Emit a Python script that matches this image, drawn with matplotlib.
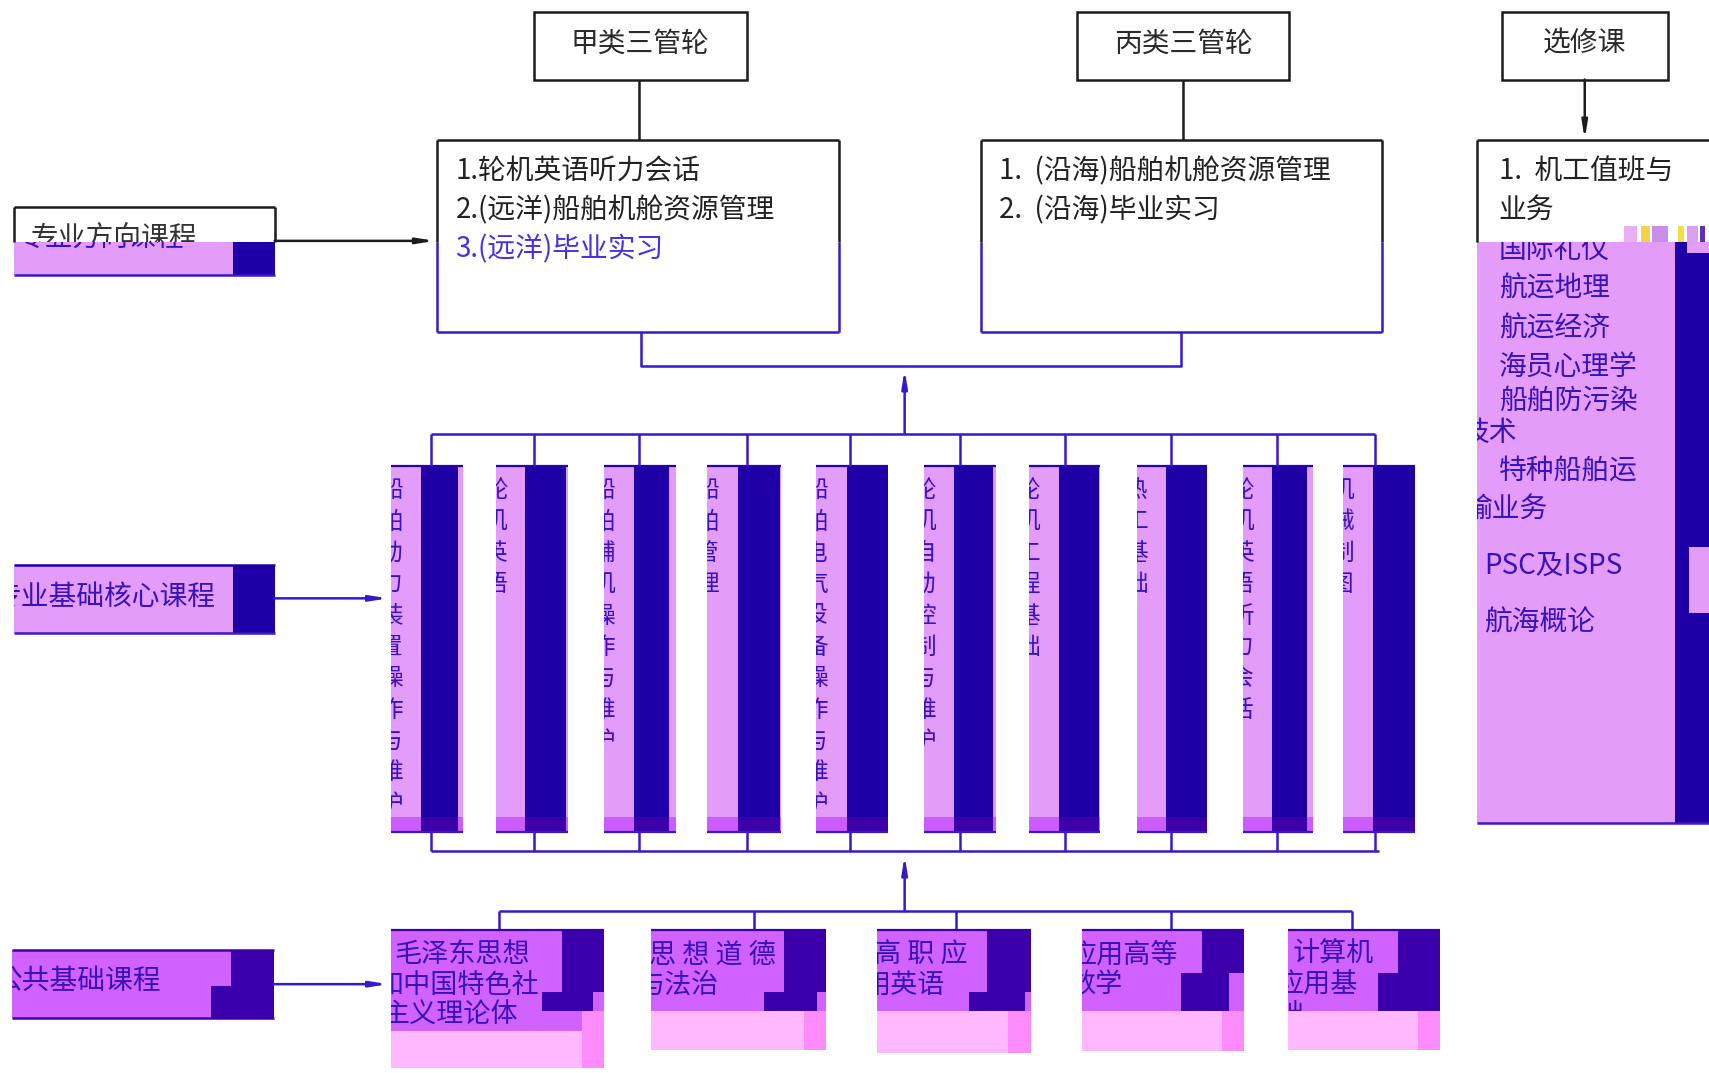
import matplotlib.pyplot as plt
from matplotlib.patches import Rectangle
from matplotlib.transforms import Bbox

plt.rcParams['font.family'] = ['Noto Sans CJK SC', 'DejaVu Sans']

# ---- text content ----
top_labels = ['甲类三管轮', '丙类三管轮', '选修课']
track_a = ['1.轮机英语听力会话', '2.(远洋)船舶机舱资源管理', '3.(远洋)毕业实习']
track_c = ['1.  (沿海)船舶机舱资源管理', '2.  (沿海)毕业实习']
elective_head = ['1.  机工值班与', '业务']
electives = ['国际礼仪', '航运地理', '航运经济', '海员心理学', '船舶防污染', '技术',
             '特种船舶运', '输业务', 'PSC及ISPS', '航海概论']
core_courses = ['船舶动力装置操作与维护', '轮机英语', '船舶辅机操作与维护', '船舶管理',
                '船舶电气设备操作与维护', '轮机自动控制与维护', '轮机工程基础', '热工基础',
                '轮机英语听力会话', '机械制图']
public_courses = [['毛泽东思想', '和中国特色社', '主义理论体'],
                  ['思 想 道 德', '与法治'],
                  ['高 职 应', '用英语'],
                  ['应用高等', '数学'],
                  ['计算机', '应用基', '础']]
side_labels = ['专业方向课程', '专业基础核心课程', '公共基础课程']

# ---- colours ----
BLACK = '#1c1c1c'
BLUE = '#3a17cc'
TBLUE = '#4a2ee6'
PINK = '#e49cfa'
NAVY = '#1f00a6'
MAG = '#d262ff'
DEEP = '#3b00ab'
LPINK = '#ffb8ff'
STRIP = '#ff8cff'
CTXT = '#3a12bc'

W, H = 1568, 984.5
fig = plt.figure(figsize=(17.09, 10.73), dpi=100)
ax = fig.add_axes([0, 0, 1, 1])
ax.set_xlim(0, W)
ax.set_ylim(H, 0)
ax.axis('off')


def rect(x0, y0, x1, y1, fc, z=1, ec='none', lw=0):
    r = Rectangle((x0, y0), x1 - x0, y1 - y0, facecolor=fc, edgecolor=ec, lw=lw, zorder=z)
    ax.add_patch(r)
    return r


def line(xs, ys, c=BLUE, lw=1.8, z=3):
    ax.plot(xs, ys, color=c, lw=lw, zorder=z, solid_capstyle='butt')


def arrow(x0, y0, x1, y1, c=BLUE):
    ax.annotate('', xy=(x1, y1), xytext=(x0, y0), zorder=4,
                arrowprops=dict(arrowstyle='-|>,head_length=1.0,head_width=0.16',
                                color=c, lw=1.8, shrinkA=0, shrinkB=0))


def text(x, y, s, c, size=20, clip=None, ha='left'):
    t = ax.text(x, y, s, color=c, fontsize=size, ha=ha, va='center', zorder=5)
    if clip is not None:
        x0, y0, x1, y1 = clip
        (px0, py0), (px1, py1) = ax.transData.transform([(x0, y0), (x1, y1)])
        t.set_clip_path(None)
        t.set_clip_box(Bbox.from_extents(min(px0, px1), min(py0, py1),
                                         max(px0, px1), max(py0, py1)))
        t.set_clip_on(True)
    return t


# ---- top title boxes ----
top_x = [(490, 685), (988, 1183), (1378, 1530)]
for (x0, x1), s in zip(top_x, top_labels):
    rect(x0, 11, x1, 73, 'white', z=2, ec=BLACK, lw=1.8)
    text((x0 + x1) / 2, 40, s, '#2a2a2a', ha='center')

line([586, 586], [73, 128], BLACK)
line([1085, 1085], [73, 128], BLACK)
arrow(1454, 73, 1454, 128, BLACK)

# ---- the two track boxes ----
SPLIT = 222
for x0, x1, items, cols in [(401, 770, track_a, ['#222', '#222', TBLUE]),
                            (900, 1268, track_c, ['#222', '#222'])]:
    line([x0, x1], [128, 128], BLACK)
    line([x0, x0], [128, SPLIT], BLACK)
    line([x1, x1], [128, SPLIT], BLACK)
    line([x0, x0], [SPLIT, 305], BLUE)
    line([x1, x1], [SPLIT, 305], BLUE)
    line([x0, x1], [305, 305], BLUE)
    for k, (s, c) in enumerate(zip(items, cols)):
        text(x0 + 17, 157 + 36 * k, s, c)

line([588, 588, 1084, 1084], [305, 336, 336, 305])
arrow(830, 398, 830, 339)

# ---- elective box ----
line([1355, W], [128, 128], BLACK)
line([1355, 1355], [128, SPLIT], BLACK)
rect(1355, SPLIT, 1537, 755, PINK)
rect(1537, SPLIT, W, 755, NAVY)
rect(1548, SPLIT, W, 232, PINK, z=2)
rect(1550, 502, W, 562, PINK, z=2)
line([1355, W], [755, 755])
for gx, gw, gc in [(1490, 12, '#e9b0f5'), (1506, 8, '#f4d34a'), (1516, 14, '#c98ee8'),
                   (1540, 5, '#f0e040'), (1548, 10, '#d9a0f0'), (1560, 4, '#5a30c0')]:
    rect(gx, 207, gx + gw, SPLIT, gc, z=2)
for k, s in enumerate(elective_head):
    text(1375, 157 + 36 * k, s, '#222')
el_y = [229, 265, 301, 337, 368, 397, 432, 468, 519, 571]
el_x = [1375, 1375, 1375, 1375, 1375, 1341, 1375, 1344, 1362, 1362]
for s, x, y in zip(electives, el_x, el_y):
    text(x, y, s, CTXT, clip=(1355, SPLIT, 1537, 755))

# ---- side labels ----
# professional direction
line([13, 252], [190, 190], BLACK)
line([13, 13], [190, SPLIT], BLACK)
line([252, 252], [190, SPLIT], BLACK)
text(28, 219, side_labels[0], '#333', clip=(13, 190, 252, SPLIT))
rect(13, SPLIT, 214, 252, PINK, z=2)
rect(214, SPLIT, 252, 252, NAVY, z=2)
line([13, 252], [252, 252], BLUE)
text(16, 219, side_labels[0], CTXT, clip=(13, SPLIT, 214, 252))
arrow(252, 221, 399, 221, BLACK)

# professional core
rect(13, 518, 214, 581, PINK)
rect(214, 518, 252, 581, NAVY)
line([13, 252], [518, 518], NAVY)
line([13, 252], [581, 581], BLUE)
text(-6, 548, side_labels[1], CTXT, clip=(13, 518, 214, 581))
arrow(252, 549, 356, 549)

# public
rect(11, 872, 212, 905, MAG)
rect(212, 872, 251, 905, DEEP)
rect(11, 905, 194, 934, MAG)
rect(194, 905, 251, 934, DEEP)
line([11, 251], [872, 872], DEEP)
line([11, 251], [934, 934], DEEP)
text(-5, 900, side_labels[2], CTXT, clip=(11, 872, 212, 934))
arrow(251, 903, 356, 903)

# ---- core course columns ----
col_l = [359, 455, 554, 649, 749, 848, 944, 1043, 1140, 1232]
col_d0 = [386, 482, 582, 677, 777, 875, 972, 1070, 1167, 1260]
col_d1 = [420, 519, 614, 716, 815, 911, 1008, 1107, 1199, 1298]
col_r = [425, 521, 620, 717, 815, 914, 1009, 1107, 1205, 1298]
CT, CB = 428, 763
for name, l, d0, d1, r in zip(core_courses, col_l, col_d0, col_d1, col_r):
    rect(l, CT, r, CB, PINK)
    rect(d0, CT, d1, CB, NAVY)
    rect(l, 750, r, CB, '#cc5cff', z=1.5)
    rect(d0, 750, d1, CB, '#3c00a8', z=1.6)
    line([l, r], [CT, CT], '#2a00b0', lw=1.6)
    line([l, r], [CB, CB], BLUE, lw=1.6)
    for k, ch in enumerate(name):
        text(l - 0.5, 450 + 28.8 * k, ch, CTXT, size=17, ha='center', clip=(l, CT, d0, CB))

ticks = [395, 490, 586, 685, 780, 881, 977, 1074, 1172, 1262]
line([ticks[0], ticks[-1]], [398, 398])
line([ticks[0], 1265], [781, 781])
for tx in ticks:
    line([tx, tx], [398, CT])
    line([tx, tx], [CB, 781])
arrow(830, 836, 830, 785)

# ---- public course boxes ----
low_ticks = [458, 692, 877, 1074, 1240]
line([low_ticks[0], low_ticks[-1]], [836, 836])
for tx in low_ticks:
    line([tx, tx], [836, 853])

# x0, x1, dark-top x, step-dark x0, x1, step top y, magenta bottom, strip x, bottom
pub_geo = [(359, 554, 516, 497, 544, 910, 946, 534, 980),
           (597, 758, 719, 701, 750, 910, 928, 738, 963),
           (805, 946, 906, 889, 940, 910, 928, 925, 966),
           (993, 1141, 1103, 1084, 1128, 893, 928, 1121, 964),
           (1182, 1321, 1283, 1264, 1321, 893, 928, 1301, 963)]
pub_off = [[3, -14, -8], [-2, -12], [-3, -13], [-12, -12], [4, -11, -11]]
for lines_, off, (x0, x1, dk, s0, s1, sy, mb, sx, yb) in zip(public_courses, pub_off, pub_geo):
    rect(x0, 853, x1, mb, MAG)
    rect(dk, 853, x1, sy, DEEP, z=1.2)
    rect(s0, sy, s1, 928, DEEP, z=1.2)
    rect(x0, mb, sx, yb, LPINK)
    rect(sx, 928, x1, yb, STRIP, z=1.3)
    line([x0, x1], [853, 853], DEEP, lw=1.6)
    for k, (s, o) in enumerate(zip(lines_, off)):
        text(x0 + o, 876 + 28 * k, s, CTXT, size=19.5, clip=(x0, 853, x1, mb))

fig.savefig('out.png', dpi=100)
